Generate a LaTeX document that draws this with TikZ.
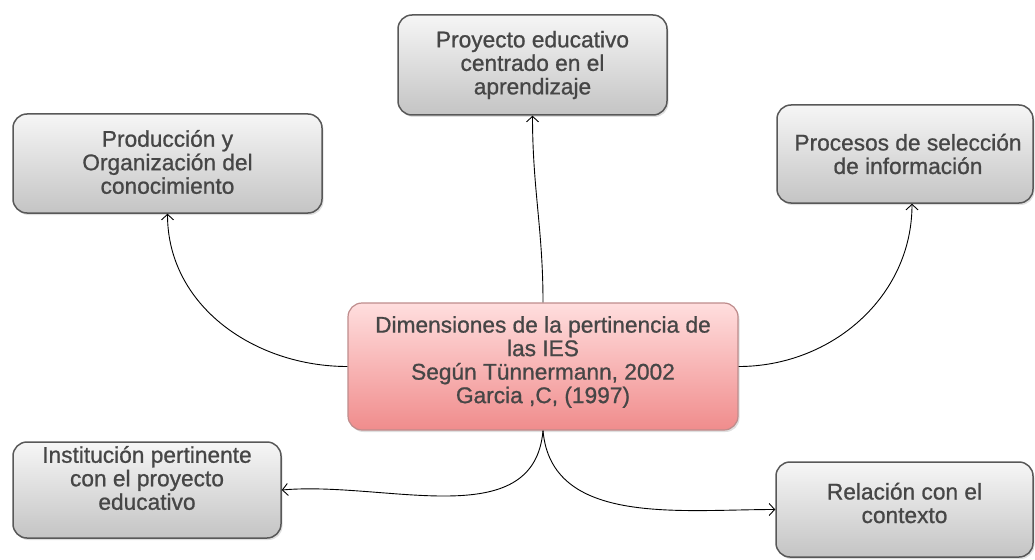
\documentclass[tikz,border=0pt]{standalone}
\usepackage{fontspec}
\setmainfont{Liberation Sans}
\newfontfamily\boxfont[FakeBold=0.9]{Liberation Sans}
\usetikzlibrary{arrows.meta,shadows}

\definecolor{boxline}{RGB}{88,88,88}
\definecolor{boxtop}{RGB}{246,246,246}
\definecolor{boxbot}{RGB}{196,196,196}
\definecolor{pinktop}{RGB}{255,222,222}
\definecolor{pinkbot}{RGB}{240,140,140}
\definecolor{pinkline}{RGB}{190,140,140}
\definecolor{txtgray}{RGB}{70,70,70}

\begin{document}
\begin{tikzpicture}[x=1pt,y=-1pt,
  dimbox/.style={draw=boxline, line width=1.5pt, rounded corners=14pt,
    top color=boxtop, bottom color=boxbot,
    drop shadow={opacity=0.25, shadow xshift=1.5pt, shadow yshift=-2pt}},
  centbox/.style={draw=pinkline, line width=1.2pt, rounded corners=14pt,
    top color=pinktop, bottom color=pinkbot,
    drop shadow={opacity=0.25, shadow xshift=1.5pt, shadow yshift=-2pt}},
  lbl/.style={text=txtgray, align=center, inner sep=0pt,
    font=\boxfont\fontsize{22.7}{23.5}\selectfont},
  conn/.style={-{Straight Barb[length=5.5pt,width=12pt]}, line width=0.9pt}]
\useasboundingbox (0,0) rectangle (1035,559);

% boxes
\node[centbox, minimum width=390pt, minimum height=127pt] (dim) at (543,366.5) {};
\node[dimbox, minimum width=269pt, minimum height=100pt] (proy) at (532.5,65) {};
\node[dimbox, minimum width=309pt, minimum height=99pt] (prod) at (167.5,163.5) {};
\node[dimbox, minimum width=256pt, minimum height=98pt] (proc) at (905,154) {};
\node[dimbox, minimum width=268pt, minimum height=96pt] (inst) at (147,490) {};
\node[dimbox, minimum width=257pt, minimum height=95pt] (rela) at (904.5,509.5) {};

% texts
\node[lbl] (dimtxt) at (543,362) {Dimensiones de la pertinencia de\\las IES\\Según Tünnermann, 2002\\Garcia ,C, (1997)};
\node[lbl] (proytxt) at (532.5,65) {Proyecto educativo\\centrado en el\\aprendizaje};
\node[lbl] (prodtxt) at (167.5,162) {Producción y\\Organización del\\conocimiento};
\node[lbl] (proctxt) at (908,154) {Procesos de selección\\de información};
\node[lbl] (insttxt) at (147,478) {Institución pertinente\\con el proyecto\\educativo};
\node[lbl] (relatxt) at (904.5,503) {Relación con el\\contexto};

% connectors
\draw[conn] (dim.north) to[out=90,in=-90] (proy.south);
\draw[conn] (dim.west) to[out=180,in=-90] (prod.south);
\draw[conn] (dim.east) to[out=0,in=-90] ([xshift=7pt]proc.south);
\draw[conn] (dim.south) to[out=-95,in=5] (inst.east);
\draw[conn] (dim.south) to[out=-85,in=180] (rela.west);

\end{tikzpicture}
\end{document}
